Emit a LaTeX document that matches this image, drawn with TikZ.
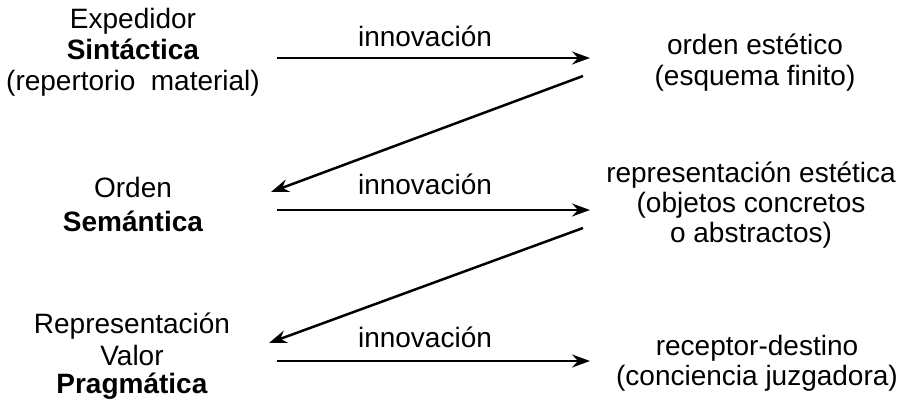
\documentclass[tikz,border=0pt]{standalone}
\usepackage{fontspec}
\setmainfont{Liberation Sans}
\usetikzlibrary{arrows.meta}
\begin{document}
\begin{tikzpicture}[x=1pt,y=-1pt,
  txt/.style={font=\fontsize{28}{31}\selectfont, inner sep=0pt, align=center, anchor=base},
  lab/.style={font=\fontsize{28}{31}\selectfont, inner sep=0pt, anchor=base},
  arr/.style={line width=2.5pt, -{Stealth[length=18pt,width=13pt,inset=6pt]}}]
\useasboundingbox (0,0) rectangle (904,403);
% left column (anchors at the baseline of the last line)
\node[txt] (l1) at (133,91) {Expedidor\\\textbf{Sintáctica}\\(repertorio\ \ material)};
\node[txt] (l2) at (133,232) {Orden\\[3pt]\textbf{Semántica}};
\node[txt] (l3) at (132,393) {Representación\\[1pt]Valor\\[-3pt]\textbf{Pragmática}};
% right column
\node[txt] (r1) at (755,86) {orden estético\\(esquema finito)};
\node[txt] (r2) at (751,243) {representación estética\\[-1pt](objetos concretos\\[-1pt]o abstractos)};
\node[txt] (r3) at (757,385) {receptor-destino\\[-1pt](conciencia juzgadora)};
% arrow end points
\coordinate (h1s) at (277,58);
\coordinate (h1e) at (590,58);
\coordinate (d1s) at (583,76);
\coordinate (d1e) at (271,192);
\coordinate (h2s) at (277,210);
\coordinate (h2e) at (590,210);
\coordinate (d2s) at (583,228);
\coordinate (d2e) at (269,343);
\coordinate (h3s) at (277,361);
\coordinate (h3e) at (590,361);
\draw[arr] (h1s) -- (h1e);
\draw[arr] (d1s) -- (d1e);
\draw[arr] (h2s) -- (h2e);
\draw[arr] (d2s) -- (d2e);
\draw[arr] (h3s) -- (h3e);
% labels
\node[lab] (i1) at (425,47) {innovación};
\node[lab] (i2) at (425,195) {innovación};
\node[lab] (i3) at (425,347) {innovación};
\end{tikzpicture}
\end{document}
